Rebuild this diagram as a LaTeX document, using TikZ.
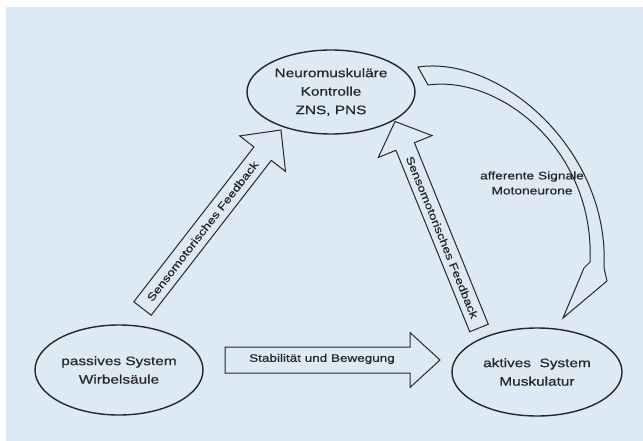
\documentclass[tikz,border=0pt]{standalone}
\usepackage{fontspec}
\setmainfont{Liberation Sans}[FakeStretch=1.25,FakeBold=0.6]
\usetikzlibrary{calc,shapes.geometric}
\definecolor{bgblue}{RGB}{221,234,243}
\definecolor{ink}{RGB}{38,38,44}
\tikzset{
  ell/.style={ellipse, draw=ink, line width=1.4pt, inner sep=0pt, align=center,
    font=\fontsize{12.3}{18.5}\selectfont, text=ink},
  arrowline/.style={draw=ink, line width=1pt, line join=miter},
  arrowtext/.style={font=\fontsize{10.8}{13}\selectfont, text=ink, inner sep=0pt},
  labeltext/.style={font=\fontsize{11}{15}\selectfont, text=ink, align=center, inner sep=0pt}
}
\newcommand\fatarrow[5]{%
  \path ($(#2)!#5!(#1)$) coordinate (fab);
  \draw[arrowline] ($(#1)!#3!90:(#2)$) -- ($(fab)!#3!-90:(#1)$) -- ($(fab)!#4!-90:(#1)$)
    -- (#2) -- ($(fab)!#4!90:(#1)$) -- ($(fab)!#3!90:(#1)$) -- ($(#1)!#3!-90:(#2)$) -- cycle;
}
\begin{document}
\begin{tikzpicture}[x=1pt,y=-1pt]
\useasboundingbox (0,0) rectangle (643,441);
\fill[bgblue] (6,7) rectangle (643,441);

% ellipses
\node[ell, minimum width=168pt, minimum height=84pt] (nmk) at (331,92) {Neuromuskuläre\\Kontrolle\\ZNS, PNS};
\node[ell, minimum width=168pt, minimum height=90pt] (pas) at (119,370) {passives System\\Wirbelsäule};
\node[ell, minimum width=170pt, minimum height=88pt] (akt) at (537,372) {aktives\ \ System\\Muskulatur};

% horizontal arrow
\coordinate (h0) at (225,360);
\coordinate (h1) at (440,360);
\fatarrow{h0}{h1}{13pt}{27.5pt}{30pt}
\node[arrowtext] (htxt) at (322,359) {Stabilität und Bewegung};

% left diagonal arrow
\coordinate (l0) at (142.5,308.5);
\coordinate (l1) at (281,130);
\fatarrow{l0}{l1}{11pt}{29pt}{30pt}
\path (l0) -- (fab) node[midway, sloped, arrowtext] (ltxt) {Sensomotorisches Feedback};

% middle diagonal arrow
\coordinate (m0) at (479,328);
\coordinate (m1) at (395,121.5);
\fatarrow{m0}{m1}{10pt}{29pt}{27pt}
\path (m0) -- (fab) node[midway, sloped, arrowtext] (mtxt) {Sensomotorisches Feedback};

% curved arrow
\draw[arrowline] (418,67) .. controls (500,55) and (610,150) .. (604,268)
  -- (607,281) -- (563,318) -- (584,268) -- (590,262)
  .. controls (595,150) and (500,75) .. (428,85) -- cycle;
\node[labeltext] (aff) at (532,183) {afferente Signale\\Motoneurone};
\end{tikzpicture}
\end{document}
